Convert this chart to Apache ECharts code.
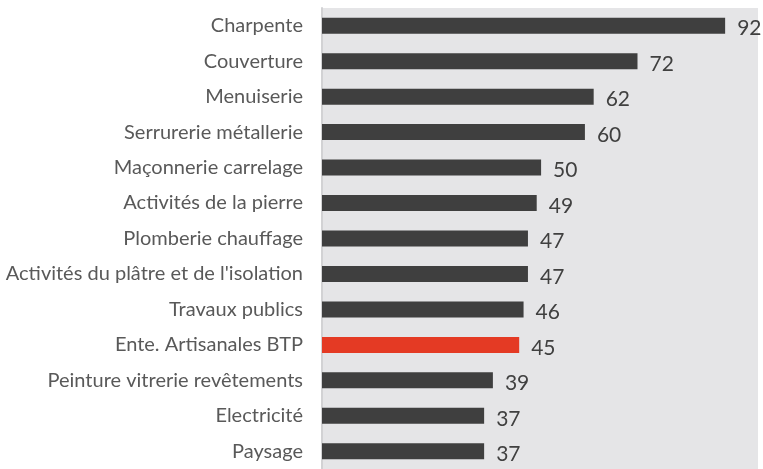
<!DOCTYPE html>
<html>
<head>
<meta charset="utf-8">
<script src="https://cdn.jsdelivr.net/npm/echarts@6/dist/echarts.min.js"></script>
<style>
  html, body { margin: 0; padding: 0; background: #fff; }
  #chart { width: 763px; height: 469px; }
</style>
</head>
<body>
<div id="chart"></div>
<script>
// categories, top to bottom
var categories = ['Charpente', 'Couverture', 'Menuiserie', 'Serrurerie métallerie',
  'Maçonnerie carrelage', 'Activités de la pierre', 'Plomberie chauffage',
  "Activités du plâtre et de l'isolation", 'Travaux publics', 'Ente. Artisanales BTP',
  'Peinture vitrerie revêtements', 'Electricité', 'Paysage'];
var values = [92, 72, 62, 60, 50, 49, 47, 47, 46, 45, 39, 37, 37];
var highlight = 'Ente. Artisanales BTP';

var chart = echarts.init(document.getElementById('chart'));

var option = {
  animation: false,
  grid: {
    left: 322,
    right: 5,
    top: 8,
    bottom: 0,
    show: true,
    backgroundColor: '#e5e5e7',
    borderWidth: 0
  },
  xAxis: {
    type: 'value',
    min: 0,
    max: 99.5,
    show: false
  },
  yAxis: {
    type: 'category',
    inverse: true,
    data: categories,
    axisLine: { show: true, lineStyle: { color: '#d2d2d4', width: 2 } },
    axisTick: { show: false },
    axisLabel: {
      margin: 19,
      color: '#595959',
      fontSize: 20,
      fontFamily: 'Lato'
    }
  },
  series: [{
    type: 'bar',
    barWidth: 16,
    data: values.map(function (v, i) {
      return {
        value: v,
        itemStyle: { color: categories[i] === highlight ? '#e43a24' : '#3f3f3f' }
      };
    }),
    label: {
      show: true,
      position: 'right',
      distance: 12,
      offset: [0, 3],
      color: '#404040',
      fontSize: 21,
      fontFamily: 'Lato'
    }
  }]
};

chart.setOption(option);
</script>
</body>
</html>
